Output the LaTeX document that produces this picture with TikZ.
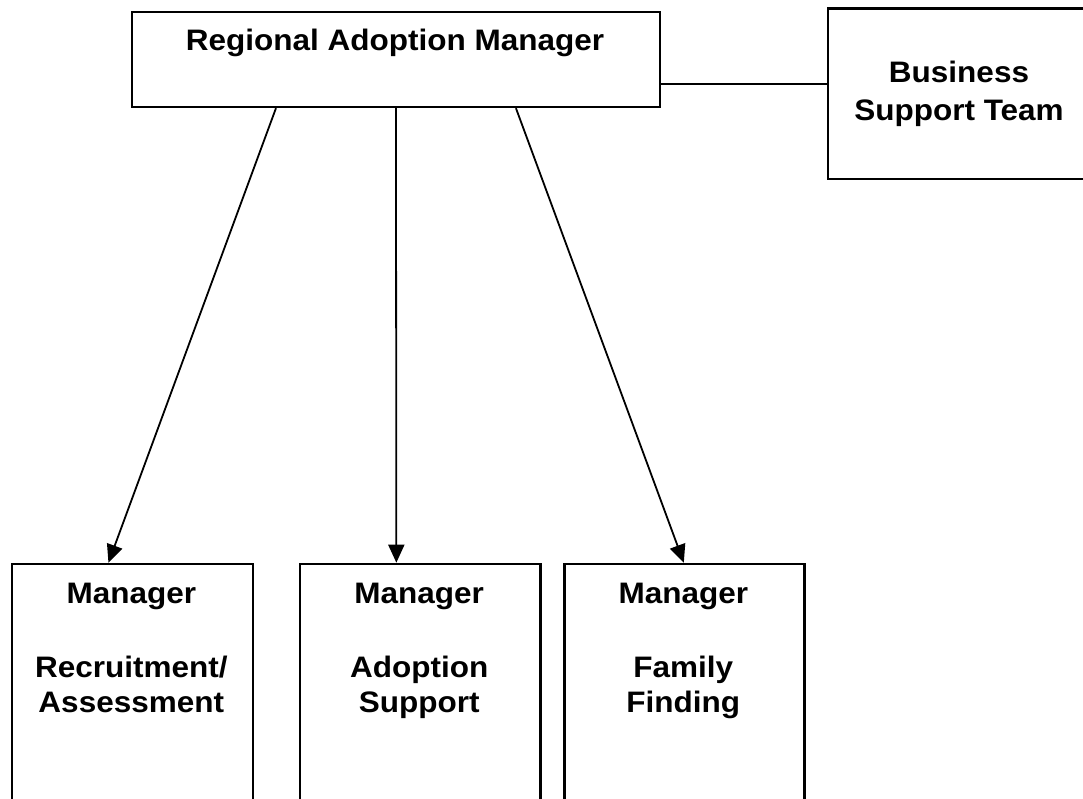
\documentclass[tikz,border=0pt]{standalone}
\usepackage{fontspec}
\setmainfont{Liberation Sans}
\usetikzlibrary{arrows.meta,calc}
\newcommand{\sq}[1]{\scalebox{1}[0.94]{#1}}
\tikzset{
  box/.style={draw=black, line width=2.2pt, fill=none, inner sep=0pt, anchor=north west},
  lbl/.style={anchor=base, inner sep=0pt, font=\fontsize{31.5}{36}\selectfont\bfseries},
  conn/.style={draw=black, line width=1.8pt},
  arr/.style={conn, -{Triangle[length=18pt,width=16pt]}}
}
\begin{document}
\begin{tikzpicture}[x=1pt,y=-1pt]
\useasboundingbox (0,0) rectangle (1083,798);
\clip (0,0) rectangle (1083,798);
\fill[white] (0,0) rectangle (1083,798);
% boxes
\node[box, minimum width=528.3pt, minimum height=95.3pt] (ram) at (130.7,10.7) {};
\node[box, minimum width=264pt, minimum height=170.7pt] (bst) at (826.7,7.3) {};
\node[box, minimum width=240.7pt, minimum height=280pt] (b1) at (11,562.7) {};
\node[box, minimum width=240.3pt, minimum height=280pt] (b2) at (299,562.7) {};
\node[box, minimum width=240pt, minimum height=280pt] (b3) at (563.3,562.7) {};
% texts
\node[lbl] (t0) at (395,50.7) {\sq{Regional Adoption Manager}};
\node[lbl] (t1) at (959,82.7) {\sq{Business}};
\node[lbl] (t2) at (959,120.3) {\sq{Support Team}};
\node[lbl] (m1) at (131.3,603) {\sq{Manager}};
\node[lbl] (a1) at (131.3,677) {\sq{Recruitment/}};
\node[lbl] (c1) at (131.3,712.5) {\sq{Assessment}};
\node[lbl] (m2) at (419.2,603) {\sq{Manager}};
\node[lbl] (a2) at (419.2,677) {\sq{Adoption}};
\node[lbl] (c2) at (419.2,712) {\sq{Support}};
\node[lbl] (m3) at (683.3,603) {\sq{Manager}};
\node[lbl] (a3) at (683.3,677) {\sq{Family}};
\node[lbl] (c3) at (683.3,712) {\sq{Finding}};
% connector points
\coordinate (s1) at ($(ram.south)+(-120,0)$);
\coordinate (s2) at (ram.south);
\coordinate (s3) at ($(ram.south)+(120,0)$);
\coordinate (e1) at ($(b1.north)+(-24,0)$);
\coordinate (e2) at ($(b2.north)+(-23.9,0)$);
\coordinate (e3) at ($(b3.north)+(-0.6,0)$);
\coordinate (rj) at ($(ram.east)+(0,24.35)$);
% connectors
\draw[arr] (s1) -- (e1);
\draw[arr] (s2) -- (e2);
\draw[arr] (s3) -- (e3);
\draw[conn] (rj) -- (rj -| bst.west);
\end{tikzpicture}
\end{document}
